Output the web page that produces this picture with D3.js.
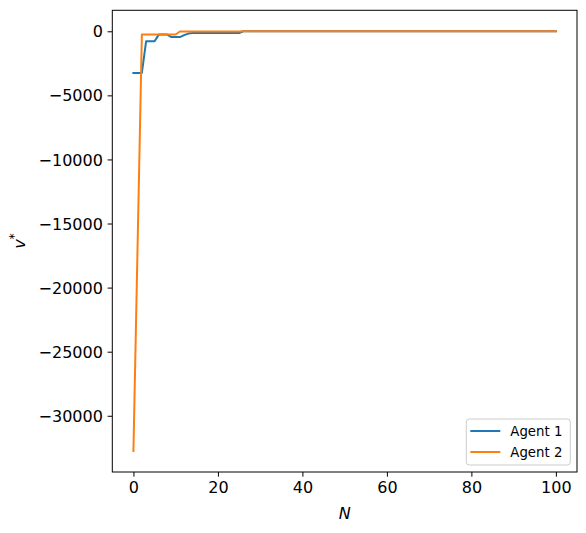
<!DOCTYPE html>
<html>
<head>
<meta charset="utf-8">
<script src="https://cdn.jsdelivr.net/npm/d3@7"></script>
<style>
  body { margin: 0; background: #fff; }
  svg { display: block; font-family: 'DejaVu Sans', sans-serif; }
</style>
</head>
<body>
<svg id="chart" width="586" height="533"></svg>
<script>
// Values, one per N = 0..100
const agent1 = [
  -3250, -3250, -3250, -780, -780, -780, -260, -260, -260, -450,
  -450, -450, -300, -180, -140, -140, -140, -140, -140, -140,
  -140, -140, -140, -140, -140, -140, 0, 0, 0, 0,
  0, 0, 0, 0, 0, 0, 0, 0, 0, 0,
  0, 0, 0, 0, 0, 0, 0, 0, 0, 0,
  0, 0, 0, 0, 0, 0, 0, 0, 0, 0,
  0, 0, 0, 0, 0, 0, 0, 0, 0, 0,
  0, 0, 0, 0, 0, 0, 0, 0, 0, 0,
  0, 0, 0, 0, 0, 0, 0, 0, 0, 0,
  0, 0, 0, 0, 0, 0, 0, 0, 0, 0,
  0
];
const agent2 = [
  -32750, -16500, -250, -250, -250, -250, -250, -250, -250, -250,
  -250, -20, -20, -20, -20, -20, -20, -20, -20, -20,
  -20, -20, -20, -20, -20, -20, 0, 0, 0, 0,
  0, 0, 0, 0, 0, 0, 0, 0, 0, 0,
  0, 0, 0, 0, 0, 0, 0, 0, 0, 0,
  0, 0, 0, 0, 0, 0, 0, 0, 0, 0,
  0, 0, 0, 0, 0, 0, 0, 0, 0, 0,
  0, 0, 0, 0, 0, 0, 0, 0, 0, 0,
  0, 0, 0, 0, 0, 0, 0, 0, 0, 0,
  0, 0, 0, 0, 0, 0, 0, 0, 0, 0,
  0
];
const seriesNames = ['Agent 1', 'Agent 2'];
const seriesColors = ['#1f77b4', '#ff7f0e'];
const xTicks = [0, 20, 40, 60, 80, 100];
const yTicks = [0, -5000, -10000, -15000, -20000, -25000, -30000];

const margin = { top: 10.3, right: 9, bottom: 61, left: 112.3 };
const W = 586, H = 533;
const width = W - margin.left - margin.right;
const height = H - margin.top - margin.bottom;

const svg = d3.select('#chart');
const g = svg.append('g').attr('transform', `translate(${margin.left},${margin.top})`);

const series = [agent1, agent2];
const nMax = agent1.length - 1;

// matplotlib style 5% margins
const xPad = nMax * 0.05;
const x = d3.scaleLinear().domain([-xPad, nMax + xPad]).range([0, width]);
const yMin = d3.min(series, s => d3.min(s));
const yMax = d3.max(series, s => d3.max(s));
const yPad = (yMax - yMin) * 0.05;
const y = d3.scaleLinear().domain([yMin - yPad, yMax + yPad]).range([height, 0]);

const line = d3.line().x((d, i) => x(i)).y(d => y(d));

g.append('defs').append('clipPath').attr('id', 'clip')
  .append('rect').attr('width', width).attr('height', height);

const plot = g.append('g').attr('clip-path', 'url(#clip)');
series.forEach((s, k) => {
  plot.append('path')
    .datum(s)
    .attr('fill', 'none')
    .attr('stroke', seriesColors[k])
    .attr('stroke-width', 2)
    .attr('stroke-linejoin', 'round')
    .attr('stroke-linecap', 'square')
    .attr('d', line);
});

// axes
const xAxis = g.append('g').attr('transform', `translate(0,${height})`)
  .call(d3.axisBottom(x).tickValues(xTicks).tickFormat(d3.format('d')).tickSizeOuter(0).tickSize(4.7).tickPadding(4.7));
const yAxis = g.append('g')
  .call(d3.axisLeft(y).tickValues(yTicks).tickFormat(d3.format('d')).tickSizeOuter(0).tickSize(4.7).tickPadding(4.7));

[xAxis, yAxis].forEach(a => {
  a.select('.domain').remove();
  a.selectAll('line').attr('stroke', '#000').attr('stroke-width', 1);
  a.selectAll('text').attr('font-size', 16).attr('fill', '#000')
    .attr('font-family', "'DejaVu Sans', sans-serif");
});
xAxis.selectAll('text').attr('dy', '0.71em');
yAxis.selectAll('text').attr('dy', '0.35em');

// frame
g.append('rect')
  .attr('width', width).attr('height', height)
  .attr('fill', 'none').attr('stroke', '#000').attr('stroke-width', 1);

// axis labels
g.append('text')
  .attr('x', width / 2).attr('y', height + 47)
  .attr('text-anchor', 'middle')
  .attr('font-size', 16).attr('font-style', 'italic')
  .text('N');

const yl = svg.append('text')
  .attr('transform', `translate(24.5, ${margin.top + height / 2}) rotate(-90)`)
  .attr('text-anchor', 'middle')
  .attr('font-size', 16);
yl.append('tspan').attr('font-style', 'italic').text('v');
yl.append('tspan').attr('font-size', 11.5).attr('dy', -7).text('*');

// legend
const lg = g.append('g').attr('transform', `translate(${width - 110.7}, ${height - 53})`);
lg.append('rect')
  .attr('width', 104).attr('height', 46).attr('rx', 3)
  .attr('fill', '#fff').attr('fill-opacity', 0.8)
  .attr('stroke', '#ccc').attr('stroke-width', 1);
seriesNames.forEach((name, k) => {
  const row = lg.append('g').attr('transform', `translate(0, ${12 + k * 21})`);
  row.append('line')
    .attr('x1', 4).attr('x2', 34)
    .attr('stroke', seriesColors[k]).attr('stroke-width', 2);
  row.append('text')
    .attr('x', 44).attr('dy', '0.35em')
    .attr('font-size', 13.3).attr('fill', '#000')
    .text(name);
});
</script>
</body>
</html>
